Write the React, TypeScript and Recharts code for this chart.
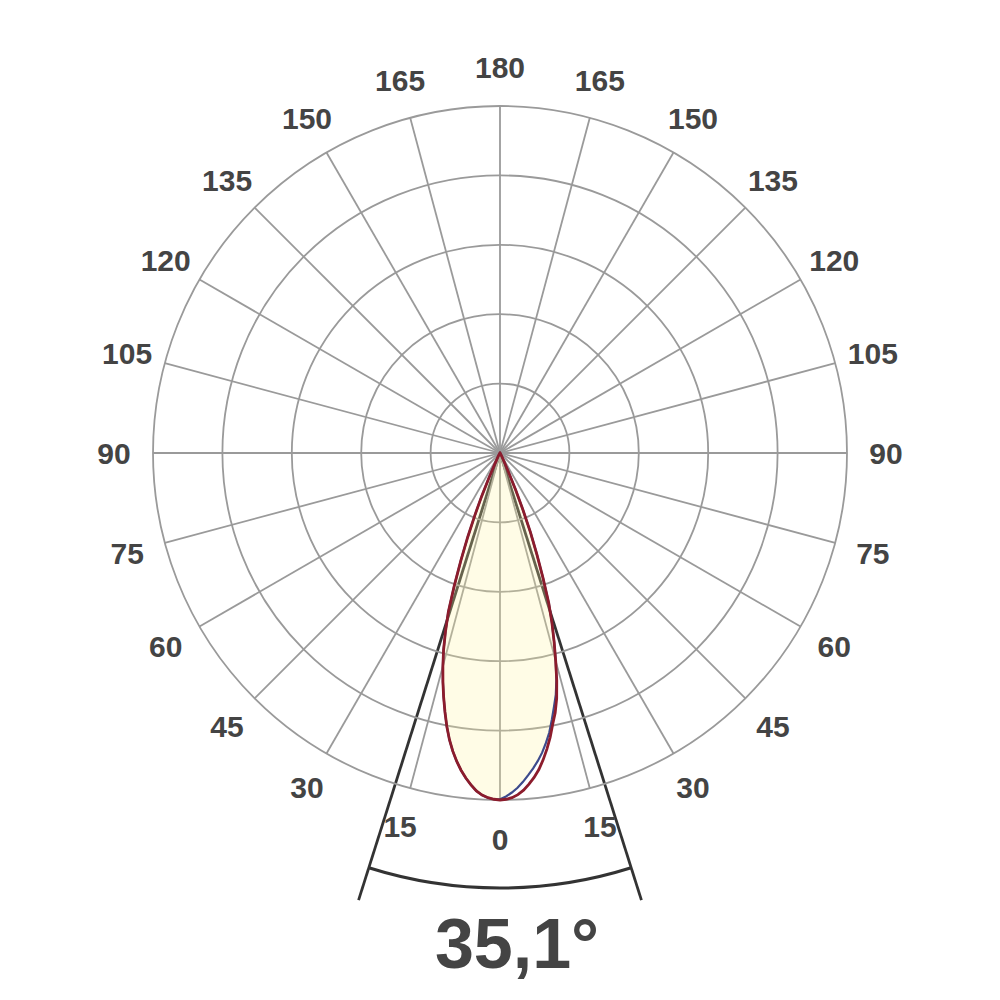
import { RadarChart, Radar, PolarGrid, PolarAngleAxis, PolarRadiusAxis } from 'recharts';

const W = 1000;
const H = 1000;
const CX = 500;
const CY = 453;
const R = 347;

// gamma = angle from nadir (deg) where the curves were read
const gamma = [
  0, 1, 2, 3, 4, 5, 6, 7, 8, 9, 10, 11, 12, 13, 14, 15, 16, 17, 18, 19, 20,
  21, 22, 23, 24, 25, 26, 28, 30, 35, 40, 50, 60, 70, 80, 90, 100, 110, 120,
  130, 140, 150, 160, 170, 180,
];

// relative intensity in % of max, right half of the diagram
const redRight = [
  100, 99.8, 99.4, 98.6, 97.4, 95.8, 94.0, 91.9, 89.3, 86.4, 83.2, 79.6, 76.5,
  72.6, 67.6, 62.0, 56.6, 51.2, 45.5, 38.0, 31.0, 24.5, 17.5, 11.5, 6.0, 3.2,
  2.0, 1.1, 0.6, 0.3, 0.15, 0, 0, 0, 0, 0, 0, 0, 0, 0, 0, 0, 0, 0, 0,
];
const blueRight = [
  99.8, 99.0, 97.9, 96.6, 95.0, 93.2, 91.4, 89.4, 87.2, 84.6, 81.8, 78.3, 74.8,
  71.5, 67.2, 62.0, 56.6, 51.2, 45.5, 38.0, 31.0, 24.5, 17.5, 11.5, 6.0, 3.2,
  2.0, 1.1, 0.6, 0.3, 0.15, 0, 0, 0, 0, 0, 0, 0, 0, 0, 0, 0, 0, 0, 0,
];
// left half
const redLeft = [
  100, 99.8, 99.4, 98.7, 97.6, 96.0, 94.2, 92.1, 89.7, 87.0, 83.9, 80.3, 76.3,
  72.2, 68.0, 63.6, 59.0, 53.7, 48.2, 40.5, 33.0, 26.0, 19.3, 13.5, 7.8, 4.0,
  2.2, 1.2, 0.7, 0.3, 0.15, 0, 0, 0, 0, 0, 0, 0, 0, 0, 0, 0, 0, 0, 0,
];
const blueLeft = [
  99.8, 99.8, 99.4, 98.7, 97.6, 96.0, 94.2, 92.1, 89.7, 87.0, 83.9, 80.3, 76.3,
  72.2, 68.0, 63.6, 59.0, 53.7, 48.2, 40.5, 33.0, 26.0, 19.3, 13.5, 7.8, 4.0,
  2.2, 1.2, 0.7, 0.3, 0.15, 0, 0, 0, 0, 0, 0, 0, 0, 0, 0, 0, 0, 0, 0,
];

const angleTicks = [
  0, 15, 30, 45, 60, 75, 90, 105, 120, 135, 150, 165, 180, 195, 210, 225, 240,
  255, 270, 285, 300, 315, 330, 345,
];
const radiusTicks = [0, 20, 40, 60, 80, 100];

const beamAngle = 35.1;

// angle 0..180 runs up the right side, 180..360 back down the left
const rows = [
  ...gamma.map((g, i) => ({ angle: g, red: redRight[i], blue: blueRight[i] })),
  ...gamma
    .map((g, i) => ({ angle: 360 - g, red: redLeft[i], blue: blueLeft[i] }))
    .slice(1, gamma.length - 1)
    .reverse(),
];

const FONT = '"Liberation Sans", Arial, sans-serif';

function AngleTick(props: any) {
  const v = props.payload?.value;
  if (v === undefined) return null;
  const label = v <= 180 ? v : 360 - v;
  return (
    <text
      x={props.x}
      y={props.y}
      dy={10.7}
      textAnchor="middle"
      fontFamily={FONT}
      fontWeight="bold"
      fontSize={30}
      fill="#444"
    >
      {label}
    </text>
  );
}

function BeamMarks() {
  const half = ((beamAngle / 2) * Math.PI) / 180;
  const lineR = 469;
  const arcR = 435;
  const p = (r: number, s: number) => [CX + s * r * Math.sin(half), CY + r * Math.cos(half)];
  const [lx, ly] = p(lineR, -1);
  const [rx, ry] = p(lineR, 1);
  const [ax1, ay1] = p(arcR, -1);
  const [ax2, ay2] = p(arcR, 1);
  return (
    <svg width={W} height={H} style={{ position: 'absolute', left: 0, top: 0 }}>
      <line x1={CX} y1={CY} x2={lx} y2={ly} stroke="#333" strokeWidth={2.8} />
      <line x1={CX} y1={CY} x2={rx} y2={ry} stroke="#333" strokeWidth={2.8} />
      <path
        d={`M${ax1},${ay1} A${arcR},${arcR} 0 0 0 ${ax2},${ay2}`}
        fill="none"
        stroke="#333"
        strokeWidth={3}
      />
      <text
        x={517}
        y={968}
        textAnchor="middle"
        fontFamily={FONT}
        fontWeight="bold"
        fontSize={70}
        fill="#444"
      >
        {beamAngle.toFixed(1).replace('.', ',') + '°'}
      </text>
    </svg>
  );
}

export default function App() {
  return (
    <div style={{ position: 'absolute', left: 0, top: 0, width: W, height: H, background: '#fff' }}>
      <BeamMarks />
      <div style={{ position: 'absolute', left: 0, top: 0 }}>
        <RadarChart
          width={W}
          height={H}
          data={rows}
          cx={CX}
          cy={CY}
          outerRadius={R}
          startAngle={-90}
          endAngle={270}
          margin={{ top: 0, right: 0, bottom: 0, left: 0 }}
        >
          <PolarGrid
            gridType="circle"
            stroke="#9a9a9a"
            strokeWidth={1.8}
            polarAngles={angleTicks.map((a) => a - 90)}
          />
          <PolarAngleAxis
            dataKey="angle"
            type="number"
            domain={[0, 360]}
            ticks={angleTicks as any}
            tick={AngleTick}
            tickLine={false}
            axisLine={false}
            tickSize={39}
          />
          <PolarRadiusAxis
            domain={[0, 100]}
            ticks={radiusTicks as any}
            tickCount={6}
            tick={false}
            axisLine={false}
          />
          <Radar
            dataKey="blue"
            stroke="#3d4b8c"
            strokeWidth={2.2}
            fill="#fff39c"
            fillOpacity={0.25}
            dot={false}
            isAnimationActive={false}
          />
          <Radar
            dataKey="red"
            stroke="#8c1c2c"
            strokeWidth={2.8}
            fill="none"
            dot={false}
            isAnimationActive={false}
          />
        </RadarChart>
      </div>
    </div>
  );
}
